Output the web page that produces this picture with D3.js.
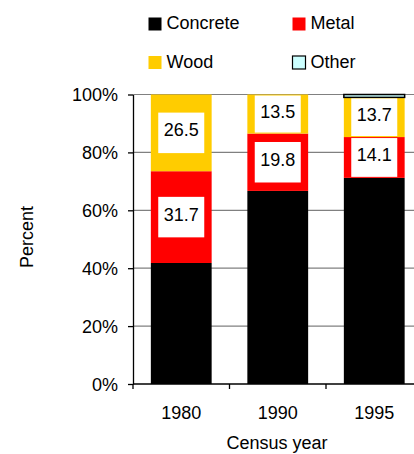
<!DOCTYPE html>
<html><head><meta charset="utf-8">
<script src="https://cdn.jsdelivr.net/npm/d3@7"></script>
<style>
html,body{margin:0;padding:0;background:#fff;}
svg{display:block;font-family:"Liberation Sans",Arial,sans-serif;}
</style></head>
<body><svg id="c" width="414" height="454"></svg>
<script>
const years = ["1980", "1990", "1995"];
const seriesNames = ["Concrete", "Metal", "Wood", "Other"];
const concrete = [41.8, 66.7, 71.2];
const metal = [31.7, 19.8, 14.1];
const wood = [26.5, 13.5, 13.7];
const other = [0, 0, 1.0];
const labelledSeries = ["Metal", "Wood"];
const yTicks = [0, 20, 40, 60, 80, 100];
const colors = {Concrete: "#000000", Metal: "#ff0000", Wood: "#ffcc00", Other: "#ccffff"};

const svg = d3.select("#c");
const fs = 18;
const x = d3.scaleBand().domain(years).range([133, 422.5]).paddingInner(0.37).paddingOuter(0.185);
const y = d3.scaleLinear().domain([0, 100]).range([384, 94.5]);

const rows = years.map((yr, i) => ({year: yr, Concrete: concrete[i], Metal: metal[i], Wood: wood[i], Other: other[i]}));
const stack = d3.stack().keys(seriesNames)(rows);

// gridlines
svg.append("g").selectAll("line").data(yTicks.filter(t => t > 0)).join("line")
  .attr("x1", 133).attr("x2", 414).attr("y1", d => y(d)).attr("y2", d => y(d))
  .attr("stroke", "#808080").attr("stroke-width", 1.2);

// bars
stack.forEach(layer => {
  const key = layer.key;
  svg.append("g").selectAll("rect").data(layer).join("rect")
    .attr("x", d => x(d.data.year))
    .attr("width", x.bandwidth())
    .attr("y", d => y(d[1]))
    .attr("height", d => Math.max(0, y(d[0]) - y(d[1])))
    .attr("fill", colors[key])
    .attr("stroke", key === "Other" ? "#000" : "none")
    .attr("stroke-width", key === "Other" ? 1.5 : 0)
    .attr("display", d => d[1] - d[0] > 0 ? null : "none");
});

// labels
stack.filter(l => labelledSeries.includes(l.key)).forEach(layer => {
  const g = svg.append("g");
  layer.forEach(d => {
    const top = y(d[1]), bot = y(d[0]);
    const h = bot - top;
    const cy = (top + bot) / 2;
    const bh = Math.min(40.5, h - 2);
    const cx = x(d.data.year) + x.bandwidth() / 2;
    g.append("rect").attr("x", cx - 23).attr("width", 46)
      .attr("y", cy - bh / 2).attr("height", bh).attr("fill", "#fff");
    g.append("text").attr("x", cx).attr("y", cy + 3.5)
      .attr("text-anchor", "middle").attr("font-size", fs).attr("fill", "#000")
      .text((d[1] - d[0]).toFixed(1));
  });
});

// y axis
const ya = svg.append("g").attr("transform", "translate(133,0)")
  .call(d3.axisLeft(y).tickValues(yTicks).tickFormat(d => d + "%").tickSize(5).tickSizeOuter(0));
ya.select(".domain").attr("stroke", "#000").attr("stroke-width", 1.3);
ya.selectAll(".tick line").attr("stroke", "#000").attr("stroke-width", 1.3);
ya.selectAll(".tick text").attr("font-size", fs).attr("font-family", "Liberation Sans, Arial, sans-serif")
  .attr("fill", "#000").attr("x", -15).attr("dy", "0.35em");

// x axis
const xa = svg.append("g").attr("transform", "translate(0,384)");
xa.append("line").attr("x1", 133).attr("x2", 414).attr("y1", 0).attr("y2", 0).attr("stroke", "#000").attr("stroke-width", 1.3);
const step = x.step();
xa.selectAll("line.t").data(d3.range(years.length + 1)).join("line").attr("class", "t")
  .attr("x1", i => 133 + i * step).attr("x2", i => 133 + i * step)
  .attr("y1", 0).attr("y2", 5).attr("stroke", "#000").attr("stroke-width", 1.3);
xa.selectAll("text").data(years).join("text")
  .attr("x", d => x(d) + x.bandwidth() / 2).attr("y", 34.5)
  .attr("text-anchor", "middle").attr("font-size", fs).attr("fill", "#000").text(d => d);

// axis titles
svg.append("text").attr("transform", "translate(33,237) rotate(-90)")
  .attr("text-anchor", "middle").attr("font-size", fs).attr("fill", "#000").text("Percent");
svg.append("text").attr("x", 277).attr("y", 449)
  .attr("text-anchor", "middle").attr("font-size", fs).attr("fill", "#000").text("Census year");

// legend
const legendPos = [[148.5, 17.5], [292.5, 17.5], [148.5, 56], [292.5, 56]];
const lg = svg.append("g");
seriesNames.forEach((s, i) => {
  const [lx, ly] = legendPos[i];
  lg.append("rect").attr("x", lx).attr("y", ly).attr("width", 13).attr("height", 13)
    .attr("fill", colors[s]).attr("stroke", s === "Other" ? "#000" : "none").attr("stroke-width", 1.2);
  lg.append("text").attr("x", lx + 18).attr("y", ly + 11.5).attr("font-size", fs).attr("fill", "#000").text(s);
});
</script></body></html>
